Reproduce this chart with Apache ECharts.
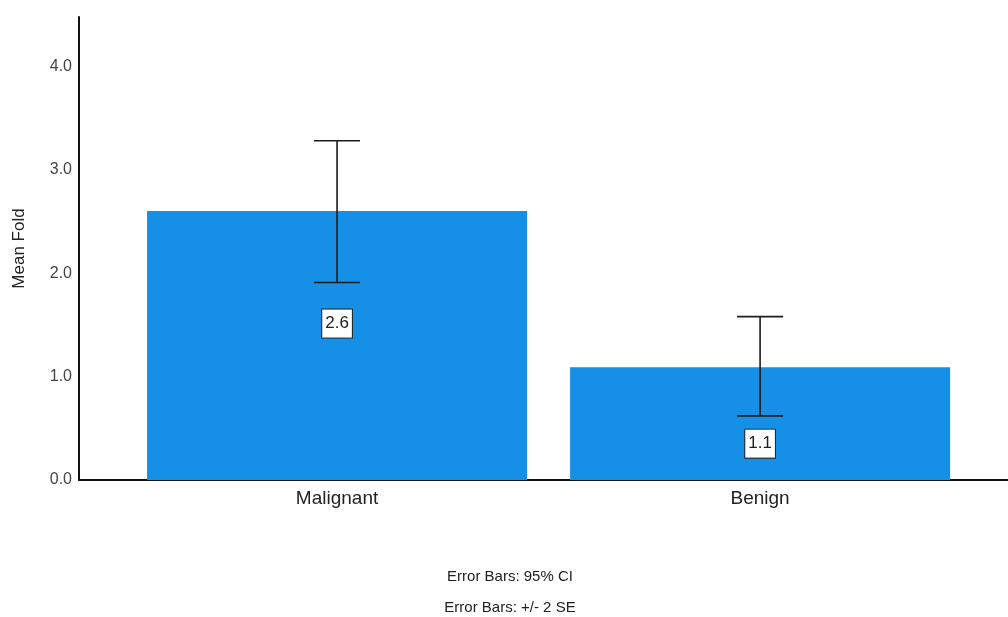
<!DOCTYPE html>
<html>
<head>
<meta charset="utf-8">
<script src="https://cdn.jsdelivr.net/npm/echarts@6/dist/echarts.min.js"></script>
<style>
  html, body { margin: 0; padding: 0; background: #fff; }
  #chart { width: 1008px; height: 617px; }
</style>
</head>
<body>
<div id="chart"></div>
<script>
// Group names along the x axis
const categories = ['Malignant', 'Benign'];
// Mean fold per group
const meanFold = [2.6, 1.09];
// 95% confidence interval bounds per group
const ciLower = [1.91, 0.62];
const ciUpper = [3.28, 1.58];
// Value-axis ticks
const yTicks = [0, 1, 2, 3, 4];
// Notes printed under the plot
const notes = ['Error Bars: 95% CI', 'Error Bars: +/- 2 SE'];

const FONT = '"Liberation Sans", Arial, sans-serif';

const chart = echarts.init(document.getElementById('chart'));

const barData = categories.map((c, i) => [i, meanFold[i]]);
const errData = categories.map((c, i) => [i, ciLower[i], ciUpper[i]]);

// Per-bar label nudges so the value boxes sit where they do in the layout
const labelOffsets = [[0, -22], [0, 20]];

chart.setOption({
  animation: false,
  grid: {
    left: 79, right: 0, top: 17, bottom: 137,
    containLabel: false,
    outerBoundsMode: 'none'
  },
  xAxis: {
    type: 'value',
    min: -0.61,
    max: 1.586,
    splitLine: { show: false },
    axisLine: { show: true, onZero: false, lineStyle: { color: '#111', width: 2 } },
    axisTick: { show: false },
    axisLabel: {
      customValues: categories.map((c, i) => i),
      formatter: v => categories[Math.round(v)] || '',
      color: '#222',
      fontSize: 19,
      fontFamily: FONT,
      margin: 9
    }
  },
  yAxis: {
    type: 'value',
    min: 0,
    max: 4.477,
    name: 'Mean Fold',
    nameLocation: 'middle',
    nameRotate: 90,
    nameGap: 51,
    nameTextStyle: { color: '#222', fontSize: 17, fontFamily: FONT },
    splitLine: { show: false },
    axisLine: { show: true, onZero: false, lineStyle: { color: '#111', width: 2 } },
    axisTick: { show: false },
    axisLabel: {
      customValues: yTicks,
      formatter: v => v.toFixed(1),
      color: '#444',
      fontSize: 16,
      fontFamily: FONT,
      margin: 7
    }
  },
  series: [
    {
      type: 'bar',
      data: barData.map((d, i) => ({
        value: d,
        label: { offset: labelOffsets[i] }
      })),
      barWidth: 380,
      itemStyle: { color: '#1590e6' },
      label: {
        show: true,
        position: 'inside',
        formatter: p => p.value[1].toFixed(1),
        color: '#222',
        fontSize: 17,
        fontFamily: FONT,
        backgroundColor: '#fff',
        borderColor: '#222',
        borderWidth: 1,
        padding: [6, 3, 5, 3]
      },
      z: 2
    },
    {
      type: 'custom',
      data: errData,
      z: 3,
      renderItem: (params, api) => {
        const x = api.value(0);
        const lo = api.coord([x, api.value(1)]);
        const hi = api.coord([x, api.value(2)]);
        const half = 23;
        const style = { stroke: '#1c1c1c', lineWidth: 1.6 };
        return {
          type: 'group',
          children: [
            { type: 'line', shape: { x1: hi[0], y1: hi[1], x2: lo[0], y2: lo[1] }, style },
            { type: 'line', shape: { x1: hi[0] - half, y1: hi[1], x2: hi[0] + half, y2: hi[1] }, style },
            { type: 'line', shape: { x1: lo[0] - half, y1: lo[1], x2: lo[0] + half, y2: lo[1] }, style }
          ]
        };
      }
    }
  ],
  // Footnotes centred under the plot area
  graphic: notes.map((t, i) => ({
    type: 'text',
    x: 510,
    y: 577 + i * 31,
    style: {
      text: t, fill: '#222', fontSize: 15, fontFamily: FONT,
      align: 'center', verticalAlign: 'middle'
    }
  }))
});
</script>
</body>
</html>
